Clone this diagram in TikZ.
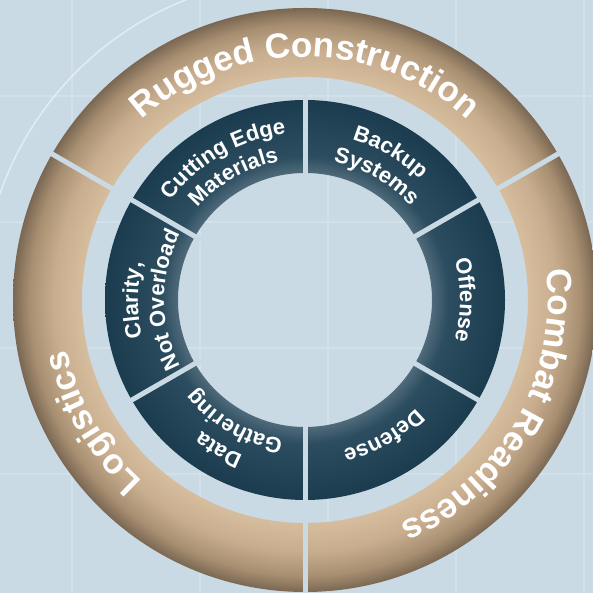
\documentclass[tikz,border=0pt]{standalone}
\usepackage{fontspec}
\setmainfont{Liberation Sans}
\usetikzlibrary{decorations.text}

\definecolor{bgblue}{HTML}{C9DAE4}
\definecolor{gridblue}{HTML}{D2E1E9}
\definecolor{tanin}{HTML}{D6BD9E}
\definecolor{tanmid}{HTML}{C8AE8F}
\definecolor{tanedge}{HTML}{A88F71}
\definecolor{tanout}{HTML}{7A6753}
\definecolor{tealin}{HTML}{4F6A7A}
\definecolor{tealmid}{HTML}{2B4D5F}
\definecolor{tealout}{HTML}{1B3C4E}

\pgfdeclareradialshading{tanring}{\pgfpoint{0bp}{0bp}}{color(0bp)=(tanin); color(19.1bp)=(tanin); color(21.5bp)=(tanmid); color(23.6bp)=(tanedge); color(25bp)=(tanout); color(50bp)=(tanout)}
\pgfdeclareradialshading{tealring}{\pgfpoint{0bp}{0bp}}{color(0bp)=(tealin); color(15.9bp)=(tealin); color(18bp)=(tealmid); color(25bp)=(tealout); color(50bp)=(tealout)}

\newcommand{\bigringfont}{\bfseries\fontsize{35}{35}\selectfont}
\newcommand{\smallringfont}{\bfseries\fontsize{22}{22}\selectfont}

\begin{document}
\begin{tikzpicture}[x=1pt,y=1pt,
  arctext/.style={decorate, decoration={text along path, text align=center, text color=white, text={#1}}}]
\useasboundingbox (0,0) rectangle (593,593);
\fill[bgblue] (0,0) rectangle (593,593);
\coordinate (c) at (305,293);

% Grid
\foreach \x in {72,200,328,456,584}
    \draw[gridblue, line width=1.2] (\x,0) -- (\x,593);
\foreach \y in {119,245,371,497}
    \draw[gridblue, line width=1.2] (0,\y) -- (593,\y);
\draw[white, opacity=0.5, line width=1.5] ([shift={(108:323)}]c) arc[start angle=108, end angle=162, radius=323];

% Outer Ring
\shade[shading=tanring, even odd rule] (c) circle[radius=292] (c) circle[radius=223];
\foreach \a in {30,150,270}
    \draw[bgblue, line width=5] ([shift={(\a:215)}]c) -- ([shift={(\a:300)}]c);
\path[arctext={|\bigringfont|Rugged Construction}] ([shift={(160:243)}]c) arc[start angle=160, end angle=20, radius=243];
\path[arctext={|\bigringfont|Combat Readiness}] ([shift={(40:243)}]c) arc[start angle=40, end angle=-100, radius=243];
\path[arctext={|\bigringfont|Logistics}] ([shift={(280:243)}]c) arc[start angle=280, end angle=140, radius=243];

% Inner Ring
\shade[shading=tealring, even odd rule] (c) circle[radius=200] (c) circle[radius=127];
\foreach \a in {30,90,...,330}
    \draw[bgblue, line width=5] ([shift={(\a:120)}]c) -- ([shift={(\a:207)}]c);
\path[arctext={|\smallringfont|Cutting Edge}] ([shift={(155:167)}]c) arc[start angle=155, end angle=85, radius=167];
\path[arctext={|\smallringfont|Materials}] ([shift={(155:141)}]c) arc[start angle=155, end angle=85, radius=141];
\path[arctext={|\smallringfont|Backup}] ([shift={(95:167)}]c) arc[start angle=95, end angle=25, radius=167];
\path[arctext={|\smallringfont|Systems}] ([shift={(95:141)}]c) arc[start angle=95, end angle=25, radius=141];
\path[arctext={|\smallringfont|Offense}] ([shift={(35:155)}]c) arc[start angle=35, end angle=-35, radius=155];
\path[arctext={|\smallringfont|Defense}] ([shift={(-25:155)}]c) arc[start angle=-25, end angle=-95, radius=155];
\path[arctext={|\smallringfont|Data}] ([shift={(275:167)}]c) arc[start angle=275, end angle=205, radius=167];
\path[arctext={|\smallringfont|Gathering}] ([shift={(275:141)}]c) arc[start angle=275, end angle=205, radius=141];
\path[arctext={|\smallringfont|Clarity,}] ([shift={(215:167)}]c) arc[start angle=215, end angle=145, radius=167];
\path[arctext={|\smallringfont|Not Overload}] ([shift={(215:141)}]c) arc[start angle=215, end angle=145, radius=141];
\end{tikzpicture}
\end{document}
